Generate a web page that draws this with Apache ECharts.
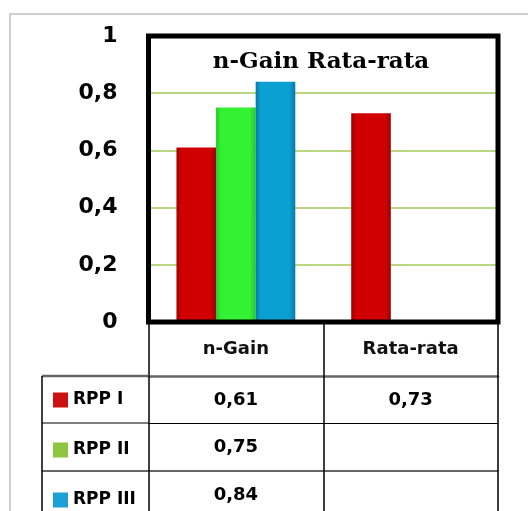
<!DOCTYPE html>
<html>
<head>
<meta charset="utf-8">
<script src="https://cdn.jsdelivr.net/npm/echarts@6/dist/echarts.min.js"></script>
<style>html,body{margin:0;padding:0;background:#fff;}#c{width:528px;height:511px;}</style>
</head>
<body>
<div id="c"></div>
<script>
const categories = ['n-Gain', 'Rata-rata'];
const seriesNames = ['RPP I', 'RPP II', 'RPP III'];
const rpp1 = [0.61, 0.73];
const rpp2 = [0.75, null];
const rpp3 = [0.84, null];
const yTicks = [0, 0.2, 0.4, 0.6, 0.8, 1];
const chartTitle = 'n-Gain Rata-rata';

const seriesValues = [rpp1, rpp2, rpp3];
const barColors = [
  ['#9e0000', '#d00000'],
  ['#22c922', '#33f233'],
  ['#0779a6', '#0aa0d2']
];
const legendColors = ['#cc1111', '#8cc540', '#1a9fd6'];

const fmt = v => (v == null ? '' : String(v).replace('.', ','));

// layout
const G = { left: 148.5, right: 30, top: 36, bottom: 189 };
const H = 511;
const baseY = H - G.bottom;
const rowLines = [376, 423, 471];
const tableLeft = 42;

const chart = echarts.init(document.getElementById('c'), null, { renderer: 'canvas' });

function grad(c) {
  return new echarts.graphic.LinearGradient(0, 0, 1, 0, [
    { offset: 0, color: c[0] },
    { offset: 0.12, color: c[1] },
    { offset: 0.85, color: c[1] },
    { offset: 1, color: c[0] }
  ]);
}

const sansBold = { fontFamily: 'DejaVu Sans', fontWeight: 'bold', color: '#000' };

function rowAxis(offset, values, tickLen, lineColor, lineWidth) {
  return {
    type: 'category',
    data: categories,
    position: 'bottom',
    offset: offset,
    axisLine: { show: true, lineStyle: { color: lineColor, width: lineWidth } },
    axisTick: { show: true, interval: 0, length: tickLen, lineStyle: { color: '#000', width: 1.5 } },
    axisLabel: {
      interval: 0, margin: 14, fontSize: 18, lineHeight: 20, ...sansBold,
      formatter: (v, i) => fmt(values[i])
    },
    splitLine: { show: false }
  };
}

const option = {
  backgroundColor: '#fff',
  animation: false,
  grid: {
    left: G.left, right: G.right, top: G.top, bottom: G.bottom,
    show: true, borderColor: '#000', borderWidth: 5, backgroundColor: 'transparent', z: 5
  },
  legend: {
    orient: 'vertical',
    left: 53, top: 391.5,
    itemGap: 33, itemWidth: 15, itemHeight: 15,
    padding: 0,
    selectedMode: false,
    textStyle: { fontSize: 17, lineHeight: 15, ...sansBold },
    data: seriesNames.map((n, i) => ({ name: n, icon: 'rect', itemStyle: { color: legendColors[i] } }))
  },
  xAxis: [
    {
      type: 'category',
      data: categories,
      position: 'bottom',
      axisLine: { show: false },
      axisTick: { show: true, interval: 0, length: rowLines[0] - baseY, lineStyle: { color: '#000', width: 1.5 } },
      axisLabel: { interval: 0, margin: 17, fontSize: 18, lineHeight: 20, ...sansBold, color: '#111' }
    },
    rowAxis(rowLines[0] - baseY, rpp1, rowLines[1] - rowLines[0], '#666', 2.5),
    rowAxis(rowLines[1] - baseY, rpp2, rowLines[2] - rowLines[1], '#000', 1.2),
    rowAxis(rowLines[2] - baseY, rpp3, 60, '#333', 1.5)
  ],
  yAxis: {
    type: 'value',
    min: yTicks[0], max: yTicks[yTicks.length - 1], interval: yTicks[1] - yTicks[0],
    axisLine: { show: false },
    axisTick: { show: false },
    axisLabel: { margin: 31, fontSize: 22, ...sansBold, formatter: v => fmt(v) },
    splitLine: { show: true, lineStyle: { color: '#a3c85a', width: 1.5 } }
  },
  series: seriesNames.map((n, i) => ({
    name: n,
    type: 'bar',
    xAxisIndex: 0,
    data: seriesValues[i],
    barGap: '0%',
    barCategoryGap: '32%',
    itemStyle: { color: grad(barColors[i]) },
    z: 2
  })),
  graphic: [
    { type: 'rect', shape: { x: 10, y: 14, width: 700, height: 700 }, style: { fill: 'none', stroke: '#cfcfcf', lineWidth: 2 }, z: -1 },
    { type: 'text', x: 321, y: 62, style: { text: chartTitle, fontFamily: 'DejaVu Serif', fontWeight: 'bold', fontSize: 23, fill: '#000', textAlign: 'center', textVerticalAlign: 'middle' }, z: 10 },
    { type: 'line', shape: { x1: tableLeft, y1: rowLines[0], x2: G.left, y2: rowLines[0] }, style: { stroke: '#666', lineWidth: 2.5 }, z: 10 },
    { type: 'line', shape: { x1: tableLeft, y1: rowLines[1], x2: G.left, y2: rowLines[1] }, style: { stroke: '#000', lineWidth: 1.2 }, z: 10 },
    { type: 'line', shape: { x1: tableLeft, y1: rowLines[2], x2: G.left, y2: rowLines[2] }, style: { stroke: '#333', lineWidth: 1.5 }, z: 10 },
    { type: 'line', shape: { x1: tableLeft, y1: rowLines[0], x2: tableLeft, y2: H + 5 }, style: { stroke: '#000', lineWidth: 1.5 }, z: 10 }
  ]
};
chart.setOption(option);
</script>
</body>
</html>
